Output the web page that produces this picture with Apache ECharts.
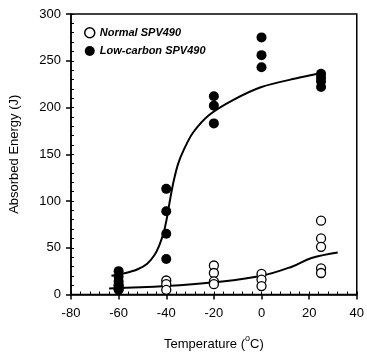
<!DOCTYPE html>
<html>
<head>
<meta charset="utf-8">
<script src="https://cdn.jsdelivr.net/npm/echarts@6/dist/echarts.min.js"></script>
<style>
  html, body { margin: 0; padding: 0; background: #fff; }
  #chart { width: 367px; height: 356px; }
</style>
</head>
<body>
<div id="chart"></div>
<script>
// measured points, [temperature °C, absorbed energy J]
const normalPoints = [
  [-60, 6], [-60, 10],
  [-40, 15], [-40, 11], [-40, 5],
  [-20, 31], [-20, 23], [-20, 14], [-20, 11],
  [0, 22], [0, 16], [0, 9],
  [25, 79], [25, 60], [25, 51], [25, 28], [25, 23]
];
const lowCarbonPoints = [
  [-60, 25], [-60, 19], [-60, 14], [-60, 9], [-60, 5],
  [-40, 113], [-40, 89], [-40, 65], [-40, 38],
  [-20, 212], [-20, 202], [-20, 183],
  [0, 275], [0, 256], [0, 243],
  [25, 236], [25, 232], [25, 228], [25, 222]
];
// fitted curves
const normalCurve = [
  [-64, 6.5], [-40, 9], [-20, 13], [0, 20], [13, 30], [21, 39], [32, 45]
];
const lowCarbonCurve = [
  [-63, 20], [-57, 23], [-52, 27], [-48, 33], [-45, 42], [-43, 52], [-41, 67],
  [-39.5, 85], [-38.5, 100], [-37, 120], [-35, 140], [-32.6, 155],
  [-28.8, 173], [-22, 192], [-12, 208], [0, 222], [16, 232], [25, 237]
];
const seriesNames = ['Normal SPV490', 'Low-carbon SPV490'];

const font = "'Liberation Sans', Arial, Helvetica, sans-serif";
const chart = echarts.init(document.getElementById('chart'));
chart.setOption({
  animation: false,
  grid: { left: 70, right: 10, top: 14, bottom: 61, show: true, borderColor: '#000', borderWidth: 1.5 },
  legend: {
    data: [
      { name: seriesNames[0], icon: 'circle', itemStyle: { color: '#fff', borderColor: '#000', borderWidth: 1.5 } },
      { name: seriesNames[1], icon: 'circle', itemStyle: { color: '#000' } }
    ],
    orient: 'vertical',
    left: 79,
    top: 22,
    itemWidth: 10,
    itemHeight: 10,
    itemGap: 7,
    textStyle: { fontFamily: font, fontSize: 11, fontStyle: 'italic', fontWeight: 'bold', color: '#000' }
  },
  xAxis: [
    {
      type: 'value', min: -80, max: 40, interval: 20,
      name: '{a|Temperature (}{s|o}{a|C)}',
      nameLocation: 'middle', nameGap: 40,
      nameTextStyle: {
        rich: {
          a: { fontFamily: font, fontSize: 13, color: '#000' },
          s: { fontFamily: font, fontSize: 9, color: '#000', verticalAlign: 'top', lineHeight: 20 }
        }
      },
      axisLine: { onZero: false, lineStyle: { color: '#000', width: 1.5 } },
      axisTick: { length: 5, lineStyle: { color: '#000', width: 1.5 } },
      axisLabel: { fontFamily: font, fontSize: 13, color: '#000', margin: 12 },
      splitLine: { show: false }
    },
    {
      type: 'value', min: -80, max: 40, interval: 4, position: 'bottom',
      axisLine: { show: false, onZero: false },
      axisTick: { inside: true, length: 3, lineStyle: { color: '#000', width: 1 } },
      axisLabel: { show: false },
      splitLine: { show: false }
    }
  ],
  yAxis: [
    {
      type: 'value', min: 0, max: 300, interval: 50,
      name: 'Absorbed Energy (J)',
      nameLocation: 'middle', nameGap: 50,
      nameTextStyle: { fontFamily: font, fontSize: 13, color: '#000' },
      axisLine: { onZero: false, lineStyle: { color: '#000', width: 1.5 } },
      axisTick: { length: 5, lineStyle: { color: '#000', width: 1.5 } },
      axisLabel: { fontFamily: font, fontSize: 13, color: '#000', margin: 10 },
      splitLine: { show: false }
    },
    {
      type: 'value', min: 0, max: 300, interval: 10, position: 'left',
      axisLine: { show: false, onZero: false },
      axisTick: { inside: true, length: 3, lineStyle: { color: '#000', width: 1 } },
      axisLabel: { show: false },
      splitLine: { show: false }
    }
  ],
  series: [
    {
      name: seriesNames[0], type: 'scatter', data: normalPoints,
      symbol: 'circle', symbolSize: 9, z: 3,
      itemStyle: { color: '#fff', borderColor: '#000', borderWidth: 1.3, opacity: 1 }
    },
    {
      name: seriesNames[1], type: 'scatter', data: lowCarbonPoints,
      symbol: 'circle', symbolSize: 10, z: 4,
      itemStyle: { color: '#000', opacity: 1 }
    },
    {
      name: 'normal fit', type: 'line', data: normalCurve, smooth: 0.4,
      showSymbol: false, z: 2, lineStyle: { color: '#000', width: 2 }
    },
    {
      name: 'low-carbon fit', type: 'line', data: lowCarbonCurve, smooth: 0.3,
      showSymbol: false, z: 2, lineStyle: { color: '#000', width: 2 }
    }
  ]
});
</script>
</body>
</html>
